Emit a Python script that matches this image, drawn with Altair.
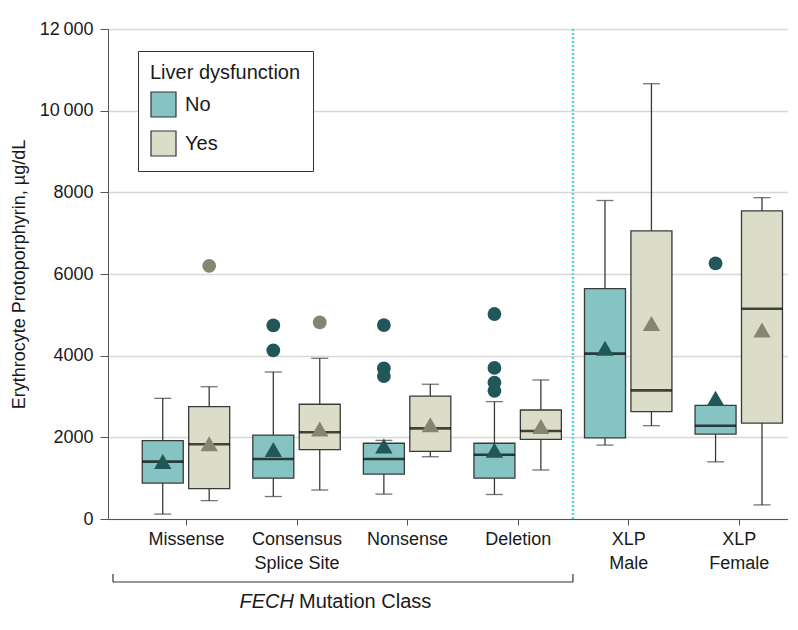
import json
import altair as alt
import pandas as pd

# ---------------- data ----------------
categories = ["Missense", "Consensus Splice Site", "Nonsense", "Deletion", "XLP Male", "XLP Female"]
x_labels = [["Missense"], ["Consensus", "Splice Site"], ["Nonsense"], ["Deletion"], ["XLP", "Male"], ["XLP", "Female"]]
groups = ["No", "Yes"]

# Liver dysfunction: No
lo_no = [120, 550, 610, 600, 1810, 1400]
q1_no = [880, 1000, 1100, 1000, 1985, 2080]
med_no = [1405, 1470, 1470, 1575, 4050, 2285]
q3_no = [1920, 2055, 1855, 1855, 5640, 2785]
hi_no = [2955, 3600, 1925, 2875, 7800, 2785]
mean_no = [1410, 1705, 1785, 1685, 4180, 2955]
out_no = [[], [4740, 4130], [4750, 3690, 3500], [5020, 3700, 3340, 3140], [], [6260]]

# Liver dysfunction: Yes
lo_yes = [450, 710, 1525, 1200, 2285, 345]
q1_yes = [745, 1700, 1655, 1950, 2630, 2350]
med_yes = [1830, 2125, 2220, 2155, 3150, 5150]
q3_yes = [2750, 2810, 3010, 2670, 7055, 7545]
hi_yes = [3240, 3935, 3300, 3405, 10660, 7870]
mean_yes = [1840, 2205, 2310, 2265, 4790, 4630]
out_yes = [[6200], [4815], [], [], [], []]

y_ticks = [0, 2000, 4000, 6000, 8000, 10000, 12000]

# ---------------- layout / style ----------------
FONT = "Liberation Sans, Arial, sans-serif"
X_DOMAIN = [-0.66, 5.40]
OFFSET = 0.21
BOX_W = 41
divider = 3.5
fill_range = ["#86c3c3", "#dcddc8"]
dark_range = ["#22575a", "#868570"]

rows = []
outs = []
for i, cat in enumerate(categories):
    for g, off, lo, q1, md, q3, hi, mn, ol in [
        ("No", -OFFSET, lo_no, q1_no, med_no, q3_no, hi_no, mean_no, out_no),
        ("Yes", OFFSET, lo_yes, q1_yes, med_yes, q3_yes, hi_yes, mean_yes, out_yes),
    ]:
        rows.append(dict(cat=cat, grp=g, pos=i + off, lo=lo[i], q1=q1[i], med=md[i],
                         q3=q3[i], hi=hi[i], mean=mn[i]))
        for v in ol[i]:
            outs.append(dict(cat=cat, grp=g, pos=i + off, val=v))

df = pd.DataFrame(rows)
df_out = pd.DataFrame(outs)

x_label_expr = json.dumps(x_labels) + "[round(datum.value)]"
x_enc = alt.X("pos:Q", scale=alt.Scale(domain=X_DOMAIN, nice=False, zero=False),
              axis=alt.Axis(values=list(range(len(categories))), labelExpr=x_label_expr,
                            title=None, grid=False, tickSize=6, labelPadding=5,
                            labelFontSize=18, labelLineHeight=24, labelOverlap=False,
                            labelFlush=False, labelBound=False, domainColor="#555555",
                            tickColor="#555555", labelColor="#1a1a1a", labelFont=FONT))
y_scale = alt.Scale(domain=[0, 12000], nice=False, zero=True)
y_enc = alt.Y("q1:Q", scale=y_scale,
              axis=alt.Axis(values=y_ticks, title="Erythrocyte Protoporphyrin, µg/dL",
                            labelExpr="datum.value >= 10000 ? floor(datum.value/1000) + '\u2009000' : '' + datum.value",
                            titleFontSize=18, titleFontWeight="normal", titlePadding=11,
                            labelFontSize=18, labelPadding=7, tickSize=8,
                            grid=True, gridColor="#d8d8d8", gridWidth=1.5,
                            domainColor="#555555", tickColor="#555555",
                            labelColor="#1a1a1a", titleColor="#1a1a1a",
                            labelFont=FONT, titleFont=FONT))

base = alt.Chart(df)

divider_df = pd.DataFrame({"x": [divider]})
divider_rule = alt.Chart(divider_df).mark_rule(color="#52dce6", strokeWidth=2.6, strokeDash=[2, 2]).encode(
    x=alt.X("x:Q", scale=alt.Scale(domain=X_DOMAIN, nice=False, zero=False)),
    y=alt.value(0), y2=alt.value(490))

boxes = base.mark_bar(size=BOX_W, stroke="#3a3a3a", strokeWidth=1.3).encode(
    x=x_enc, y=y_enc, y2="q3:Q",
    fill=alt.Fill("grp:N", scale=alt.Scale(domain=groups, range=fill_range),
                  legend=alt.Legend(title="Liver dysfunction", orient="none", legendX=30, legendY=22,
                                    direction="vertical", symbolType="square", symbolSize=625,
                                    symbolStrokeColor="#333333", symbolStrokeWidth=1.2,
                                    symbolOpacity=1, titleFontSize=20, titleFontWeight="normal",
                                    labelFontSize=20, titleFont=FONT, labelFont=FONT,
                                    titleColor="#1a1a1a", labelColor="#1a1a1a",
                                    padding=12, rowPadding=8, titlePadding=8, labelOffset=8,
                                    strokeColor="#333333", fillColor="white", cornerRadius=0)))

whisk_lo = base.mark_rule(color="#3a3a3a", strokeWidth=1.3).encode(x="pos:Q", y="lo:Q", y2="q1:Q")
whisk_hi = base.mark_rule(color="#3a3a3a", strokeWidth=1.3).encode(x="pos:Q", y="q3:Q", y2="hi:Q")
cap_lo = base.mark_tick(orient="horizontal", size=17, thickness=1.3, color="#3a3a3a").encode(x="pos:Q", y="lo:Q")
cap_hi = base.mark_tick(orient="horizontal", size=17, thickness=1.3, color="#3a3a3a").encode(x="pos:Q", y="hi:Q")
median = base.mark_tick(orient="horizontal", size=BOX_W, thickness=2.6, color="#000000").encode(x="pos:Q", y="med:Q")

dark_scale = alt.Scale(domain=groups, range=dark_range)
means = base.mark_point(shape="triangle-up", filled=True, size=300, opacity=1).encode(
    x="pos:Q", y="mean:Q", color=alt.Color("grp:N", scale=dark_scale, legend=None))
outliers = alt.Chart(df_out).mark_circle(size=190, opacity=1).encode(
    x="pos:Q", y=alt.Y("val:Q", scale=y_scale), color=alt.Color("grp:N", scale=dark_scale, legend=None))

# bracket for FECH mutation classes
bracket_df = pd.DataFrame({"x": [X_DOMAIN[0]], "x2": [divider]})
bracket_h = alt.Chart(bracket_df).mark_rule(color="#333333", strokeWidth=1.2).encode(
    x="x:Q", x2="x2:Q", y=alt.value(553))
bracket_ends_df = pd.DataFrame({"x": [X_DOMAIN[0], divider]})
bracket_v = alt.Chart(bracket_ends_df).mark_rule(color="#333333", strokeWidth=1.2).encode(
    x="x:Q", y=alt.value(545), y2=alt.value(553))

title_df = pd.DataFrame({"a": ["FECH"], "b": ["Mutation Class"]})
t1 = alt.Chart(title_df).mark_text(align="right", baseline="alphabetic", fontSize=20, fontStyle="italic",
                                   font=FONT, color="#1a1a1a").encode(text="a:N", x=alt.value(186), y=alt.value(579))
t2 = alt.Chart(title_df).mark_text(align="left", baseline="alphabetic", fontSize=20,
                                   font=FONT, color="#1a1a1a").encode(text="b:N", x=alt.value(191), y=alt.value(579))

chart = alt.layer(
    divider_rule, whisk_lo, whisk_hi, cap_lo, cap_hi, boxes, median, means, outliers,
    bracket_h, bracket_v, t1, t2
).resolve_scale(color="independent", fill="independent").properties(
    width=680, height=490,
    autosize=alt.AutoSizeParams(type="none"),
    padding={"left": 100, "top": 21, "right": 0, "bottom": 100},
    background="white",
).configure_view(stroke=None).configure_axis(labelFont=FONT, titleFont=FONT)

chart.save("out.html", embed_options={"renderer": "svg", "actions": False})
